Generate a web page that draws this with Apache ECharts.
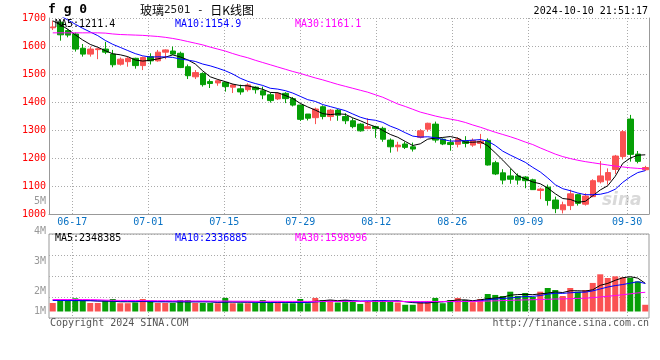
<!DOCTYPE html>
<html><head><meta charset="utf-8">
<script src="https://cdn.jsdelivr.net/npm/echarts@6/dist/echarts.min.js"></script>
<style>html,body{margin:0;padding:0;background:#fff}#c{width:660px;height:360px}</style>
</head><body><div id="c"></div>
<script>
// ---------- data ----------
const dates = ['06-12','06-13','06-14','06-17','06-18','06-19','06-20','06-21','06-24','06-25','06-26','06-27','06-28',
'07-01','07-02','07-03','07-04','07-05','07-08','07-09','07-10','07-11','07-12','07-15','07-16','07-17','07-18','07-19','07-22','07-23','07-24','07-25','07-26','07-29','07-30','07-31',
'08-01','08-02','08-05','08-06','08-07','08-08','08-09','08-12','08-13','08-14','08-15','08-16','08-19','08-20','08-21','08-22','08-23','08-26','08-27','08-28','08-29','08-30',
'09-02','09-03','09-04','09-05','09-06','09-09','09-10','09-11','09-12','09-13','09-18','09-19','09-20','09-23','09-24','09-25','09-26','09-27','09-30',
'10-08','10-09','10-10'];
const opens = [1665,1685,1655,1643,1592,1571,1587,1589,1571,1535,1544,1556,1530,1562,1547,1578,1582,1574,1526,1490,
1502,1473,1468,1470,1453,1447,1444,1453,1440,1426,1411,1431,1412,1389,1357,1344,1383,1348,1371,1348,
1333,1321,1305,1312,1306,1264,1240,1250,1240,1274,1303,1321,1267,1255,1249,1260,1246,1252,1263,1183,
1147,1136,1136,1132,1122,1084,1096,1050,1015,1030,1069,1035,1062,1115,1121,1159,1205,1339,1214,1158];
const closes = [1668,1640,1639,1589,1571,1589,1590,1578,1533,1553,1556,1530,1559,1547,1578,1586,1571,1523,1494,1505,
1462,1466,1476,1455,1461,1436,1461,1444,1425,1405,1431,1412,1389,1338,1342,1375,1348,1371,1353,1333,
1312,1297,1312,1305,1267,1240,1246,1238,1232,1297,1324,1264,1250,1248,1268,1252,1263,1260,1175,1143,
1121,1124,1121,1119,1087,1089,1048,1019,1033,1072,1038,1064,1119,1136,1148,1207,1294,1213,1188,1166];
const lows = [1657,1619,1631,1580,1562,1562,1553,1571,1524,1530,1526,1519,1514,1534,1544,1553,1568,1521,1482,1482,
1455,1450,1458,1437,1432,1426,1437,1430,1410,1398,1407,1396,1384,1332,1334,1321,1338,1333,1333,1321,
1306,1294,1303,1272,1258,1219,1223,1232,1223,1270,1294,1255,1246,1226,1238,1238,1240,1234,1173,1139,
1106,1108,1105,1092,1086,1053,1030,1003,1002,1014,1030,1030,1060,1109,1105,1143,1195,1187,1181,1154];
const highs = [1690,1692,1660,1648,1607,1598,1593,1615,1586,1559,1562,1558,1562,1574,1586,1588,1598,1580,1534,1514,
1506,1481,1480,1472,1465,1462,1467,1456,1455,1433,1435,1435,1418,1391,1357,1380,1388,1375,1375,1360,
1342,1324,1342,1315,1312,1270,1258,1258,1255,1303,1326,1330,1270,1268,1274,1278,1270,1286,1270,1190,
1160,1161,1145,1135,1126,1094,1105,1062,1044,1087,1072,1074,1124,1189,1163,1211,1300,1354,1225,1172];
const ma5 = [1690,1676,1660,1640,1621.4,1605.6,1595.6,1583.4,1572.2,1568.6,1562,1550,1546.2,1549,1554,1560,1568.2,1561,1550.4,1535.8,
1511,1490,1480.6,1472.8,1464,1458.8,1457.8,1451.4,1445.4,1434.2,1433.2,1423.4,1412.4,1395,1382.4,1371.2,1358.4,1354.8,1357.8,1356,
1343.4,1333.2,1321.4,1311.8,1298.6,1284.2,1274,1259.2,1244.6,1250.6,1267.4,1271,1273.4,1276.6,1270.8,1256.4,1256.2,1258.2,1243.6,1218.6,
1192.4,1164.6,1136.8,1125.6,1114.4,1108,1092.8,1072.4,1055.2,1052.2,1042,1045.2,1065.2,1085.8,1101,1134.8,1180.8,1199.6,1210,1211.4];
const ma10 = [1720,1708,1693,1678,1663,1650,1637,1620,1606,1595,1583.8,1572.8,1564.8,1560.6,1561.3,1561,1559.1,1553.6,1549.7,1544.9,
1535.5,1529.1,1520.8,1511.6,1499.9,1484.9,1473.9,1466,1459.1,1449.1,1446,1440.6,1431.9,1420.2,1408.3,1402.2,1390.9,1383.6,1376.4,1369.2,
1357.3,1345.8,1338.1,1334.8,1327.3,1313.8,1303.6,1290.3,1278.2,1274.6,1275.8,1272.5,1266.3,1260.6,1260.7,1261.9,1263.6,1265.8,1260.1,1244.7,
1224.4,1210.4,1197.5,1184.6,1166.5,1150.2,1128.7,1104.6,1090.4,1083.3,1075,1069,1068.8,1070.5,1076.6,1088.4,1113,1132.4,1147.9,1154.9];
const ma30 = [1647,1647,1647,1647,1647,1647,1647,1646,1643,1641,1640,1639,1638,1636,1634,1631,1627,1622,1616,1610,
1604,1596,1589,1582,1573,1565,1558,1549,1541,1533,1525,1517,1509,1502,1494,1486,1479,1471,1463,1456,
1449,1442,1435,1426,1417,1405,1393,1384,1374,1364,1357,1350,1344,1339,1334,1327,1318,1310,1301,1292,
1284,1276,1267,1257,1248,1236,1225,1214,1205,1198,1192,1187,1183,1179,1175,1171,1168,1165,1163,1161.1];
const volumes = [710000,900000,900000,1100000,930000,710000,710000,900000,1040000,690000,690000,750000,1040000,900000,710000,710000,710000,960000,960000,710000,
710000,710000,690000,1130000,690000,690000,690000,710000,960000,710000,710000,690000,690000,1040000,690000,1130000,960000,960000,750000,960000,
880000,630000,880000,960000,960000,880000,750000,560000,560000,780000,880000,1130000,690000,960000,1130000,960000,780000,1040000,1460000,1380000,
1290000,1650000,1290000,1540000,1210000,1650000,1960000,1790000,1290000,1960000,1650000,1790000,2380000,3100000,2790000,2930000,2850000,2820000,2510000,560000];
const volMa5 = [960000,950000,930000,920000,910000,910000,870000,870000,860000,810000,810000,810000,840000,810000,820000,820000,810000,800000,810000,810000,
810000,810000,760000,790000,790000,780000,780000,780000,750000,750000,760000,760000,750000,770000,760000,850000,900000,960000,900000,950000,
900000,840000,820000,860000,860000,860000,890000,820000,740000,710000,710000,780000,810000,890000,960000,970000,900000,970000,1070000,1120000,
1190000,1360000,1410000,1430000,1400000,1470000,1530000,1630000,1580000,1730000,1730000,1700000,1810000,2180000,2340000,2600000,2810000,2900000,2780000,2348385];
const volMa10 = [920000,920000,910000,910000,900000,900000,890000,880000,870000,860000,860000,840000,860000,840000,810000,810000,810000,820000,810000,810000,
820000,810000,780000,800000,800000,800000,790000,770000,770000,770000,770000,770000,770000,760000,760000,800000,830000,850000,830000,860000,
880000,870000,890000,880000,910000,880000,860000,820000,800000,780000,780000,830000,820000,820000,830000,840000,840000,890000,980000,1040000,
1080000,1130000,1190000,1250000,1260000,1330000,1450000,1520000,1510000,1560000,1600000,1610000,1720000,1880000,2040000,2160000,2250000,2360000,2480000,2336885];
const volMa30 = [1000000,1000000,1000000,1000000,1000000,990000,980000,950000,930000,920000,920000,920000,910000,910000,900000,900000,890000,890000,880000,880000,
880000,870000,870000,870000,860000,860000,860000,850000,850000,850000,850000,840000,840000,840000,840000,840000,840000,840000,840000,840000,
840000,840000,840000,840000,840000,840000,840000,830000,830000,830000,830000,830000,830000,830000,840000,840000,840000,850000,870000,890000,
910000,930000,950000,970000,980000,1000000,1020000,1040000,1050000,1070000,1090000,1110000,1150000,1210000,1270000,1330000,1400000,1470000,1550000,1598996];
const xTickLabels = ['06-17','07-01','07-15','07-29','08-12','08-26','09-09','09-30'];
const volTickLabels = ['1M','2M','3M','4M','5M'];
const priceMin = 1000, priceMax = 1700, priceStep = 100;
const legendPrice = {ma5:'1211.4', ma10:'1154.9', ma30:'1161.1'};
const legendVol = {ma5:'2348385', ma10:'2336885', ma30:'1598996'};
const titleCode = 'f g 0';
const titleName = '玻璃';
const titleContract = '2501 - ';
const titleKind = '日K线图';
const stamp = '2024-10-10 21:51:17';

// ---------- layout / style ----------
const RED = '#fa5252', GREEN = '#069f06', GRID = '#aaaaaa', AXIS = '#999999';
const MONO = '"DejaVu Sans Mono", monospace';
const volLabelPos = [0, 20, 50, 80, 110];   // pixel offsets used by Sina's volume scale labels
const tickIdx = xTickLabels.map(l => dates.indexOf(l));
const gridPxPerDay = 7.6;
const xvMin = -0.066, xvMax = xvMin + 600 / gridPxPerDay;
const volPxPerUnit = 12.0 / 1e6;
const volMax = 77.5 / volPxPerUnit;

const candleData = dates.map((d, i) => [opens[i], closes[i], lows[i], highs[i]]);
const volData = volumes.map((v, i) => ({value: v, itemStyle: {color: closes[i] >= opens[i] ? RED : GREEN}}));
const dotted = {show: true, lineStyle: {color: GRID, type: [1, 2], width: 1}};

const chart = echarts.init(document.getElementById('c'), null, {renderer: 'canvas'});
chart.setOption({
  animation: false,
  backgroundColor: '#fff',
  grid: [
    {left: 49, top: 18, width: 600, height: 196},
    {left: 49, top: 234, width: 600, height: 84, show: true, borderColor: AXIS, borderWidth: 1, backgroundColor: 'transparent'},
    {left: 49, top: 234, width: 600, height: 77.5},
    {left: 49, top: 201, width: 600, height: 110}
  ],
  xAxis: [
    {type: 'category', gridIndex: 0, data: dates, boundaryGap: true,
     axisLine: {show: true, lineStyle: {color: AXIS}}, axisTick: {show: false}, axisLabel: {show: false}, splitLine: {show: false}},
    {type: 'value', gridIndex: 0, min: xvMin, max: xvMax, position: 'bottom',
     axisLine: {show: false}, axisTick: {show: false, customValues: tickIdx},
     axisLabel: {show: true, customValues: tickIdx, formatter: v => dates[Math.round(v)], color: '#0a72c4', fontFamily: MONO, fontSize: 10, margin: 3},
     splitLine: dotted},
    {type: 'value', gridIndex: 1, min: xvMin, max: xvMax,
     axisLine: {show: false}, axisTick: {show: false, customValues: tickIdx}, axisLabel: {show: false}, splitLine: dotted},
    {type: 'category', gridIndex: 2, data: dates, boundaryGap: true, show: false},
    {type: 'value', gridIndex: 3, show: false}
  ],
  yAxis: [
    {type: 'value', gridIndex: 0, min: priceMin, max: priceMax, interval: priceStep, position: 'left',
     axisLine: {show: true, lineStyle: {color: AXIS}}, axisTick: {show: false},
     axisLabel: {color: '#ff0000', fontFamily: MONO, fontSize: 10, margin: 3, formatter: v => String(v)},
     splitLine: dotted},
    {type: 'value', gridIndex: 0, min: priceMin, max: priceMax, position: 'right',
     axisLine: {show: true, lineStyle: {color: AXIS}}, axisTick: {show: false}, axisLabel: {show: false}, splitLine: {show: false}},
    {type: 'value', gridIndex: 1, min: 0, max: 4, interval: 1,
     axisLine: {show: false}, axisTick: {show: false}, axisLabel: {show: false}, splitLine: dotted},
    {type: 'value', gridIndex: 2, min: 0, max: volMax, show: false},
    {type: 'value', gridIndex: 3, min: 0, max: 110, position: 'left',
     axisLine: {show: false}, axisTick: {show: false, customValues: volLabelPos}, splitLine: {show: false},
     axisLabel: {customValues: volLabelPos, formatter: v => volTickLabels[volLabelPos.indexOf(Math.round(v))] || '',
                 color: '#999', fontFamily: MONO, fontSize: 10, margin: 3}}
  ],
  series: [
    {type: 'candlestick', xAxisIndex: 0, yAxisIndex: 0, data: candleData, barWidth: 6, z: 3,
     itemStyle: {color: RED, color0: GREEN, borderColor: RED, borderColor0: GREEN, borderWidth: 1}},
    {type: 'line', xAxisIndex: 0, yAxisIndex: 0, data: ma5, symbol: 'none', z: 5, lineStyle: {color: '#000', width: 1}},
    {type: 'line', xAxisIndex: 0, yAxisIndex: 0, data: ma10, symbol: 'none', z: 5, lineStyle: {color: '#0000ff', width: 1}},
    {type: 'line', xAxisIndex: 0, yAxisIndex: 0, data: ma30, symbol: 'none', z: 5, lineStyle: {color: '#ff00ff', width: 1}},
    {type: 'bar', xAxisIndex: 3, yAxisIndex: 3, data: volData, barWidth: 6, z: 3},
    {type: 'line', xAxisIndex: 3, yAxisIndex: 3, data: volMa5, symbol: 'none', z: 5, lineStyle: {color: '#000', width: 1}},
    {type: 'line', xAxisIndex: 3, yAxisIndex: 3, data: volMa10, symbol: 'none', z: 5, lineStyle: {color: '#0000ff', width: 1}},
    {type: 'line', xAxisIndex: 3, yAxisIndex: 3, data: volMa30, symbol: 'none', z: 5, lineStyle: {color: '#ff00ff', width: 1}}
  ],
  graphic: [
    {type: 'text', x: 48, y: 10, z: 10, style: {text: titleCode, font: 'bold 13px ' + MONO, fill: '#000', verticalAlign: 'middle'}},
    {type: 'text', x: 140, y: 10, z: 10, style: {text: '{a|' + titleName + '}{b|' + titleContract + '}{a|' + titleKind + '}', verticalAlign: 'middle',
      rich: {a: {font: '12px "Noto Sans CJK SC"', fill: '#000'}, b: {font: '11px ' + MONO, fill: '#222'}}}},
    {type: 'text', x: 648, y: 11, z: 10, style: {text: stamp, font: '10px ' + MONO, fill: '#000', align: 'right', verticalAlign: 'middle'}},
    {type: 'text', x: 55, y: 24, z: 10, style: {text: 'MA5:' + legendPrice.ma5, font: '10px ' + MONO, fill: '#000', verticalAlign: 'middle'}},
    {type: 'text', x: 175, y: 24, z: 10, style: {text: 'MA10:' + legendPrice.ma10, font: '10px ' + MONO, fill: '#0000ff', verticalAlign: 'middle'}},
    {type: 'text', x: 295, y: 24, z: 10, style: {text: 'MA30:' + legendPrice.ma30, font: '10px ' + MONO, fill: '#ff00ff', verticalAlign: 'middle'}},
    {type: 'text', x: 55, y: 238, z: 10, style: {text: 'MA5:' + legendVol.ma5, font: '10px ' + MONO, fill: '#000', verticalAlign: 'middle'}},
    {type: 'text', x: 175, y: 238, z: 10, style: {text: 'MA10:' + legendVol.ma10, font: '10px ' + MONO, fill: '#0000ff', verticalAlign: 'middle'}},
    {type: 'text', x: 295, y: 238, z: 10, style: {text: 'MA30:' + legendVol.ma30, font: '10px ' + MONO, fill: '#ff00ff', verticalAlign: 'middle'}},
    {type: 'text', x: 50, y: 323, z: 10, style: {text: 'Copyright 2024 SINA.COM', font: '10px ' + MONO, fill: '#555', verticalAlign: 'middle'}},
    {type: 'text', x: 649, y: 323, z: 10, style: {text: 'http://finance.sina.com.cn', font: '10px ' + MONO, fill: '#555', align: 'right', verticalAlign: 'middle'}},
    {type: 'text', x: 602, y: 201, z: 1, style: {text: 'sina', font: 'italic bold 17px "DejaVu Sans"', fill: 'rgba(170,170,170,0.45)', verticalAlign: 'middle'}}
  ]
});
</script>
</body></html>
